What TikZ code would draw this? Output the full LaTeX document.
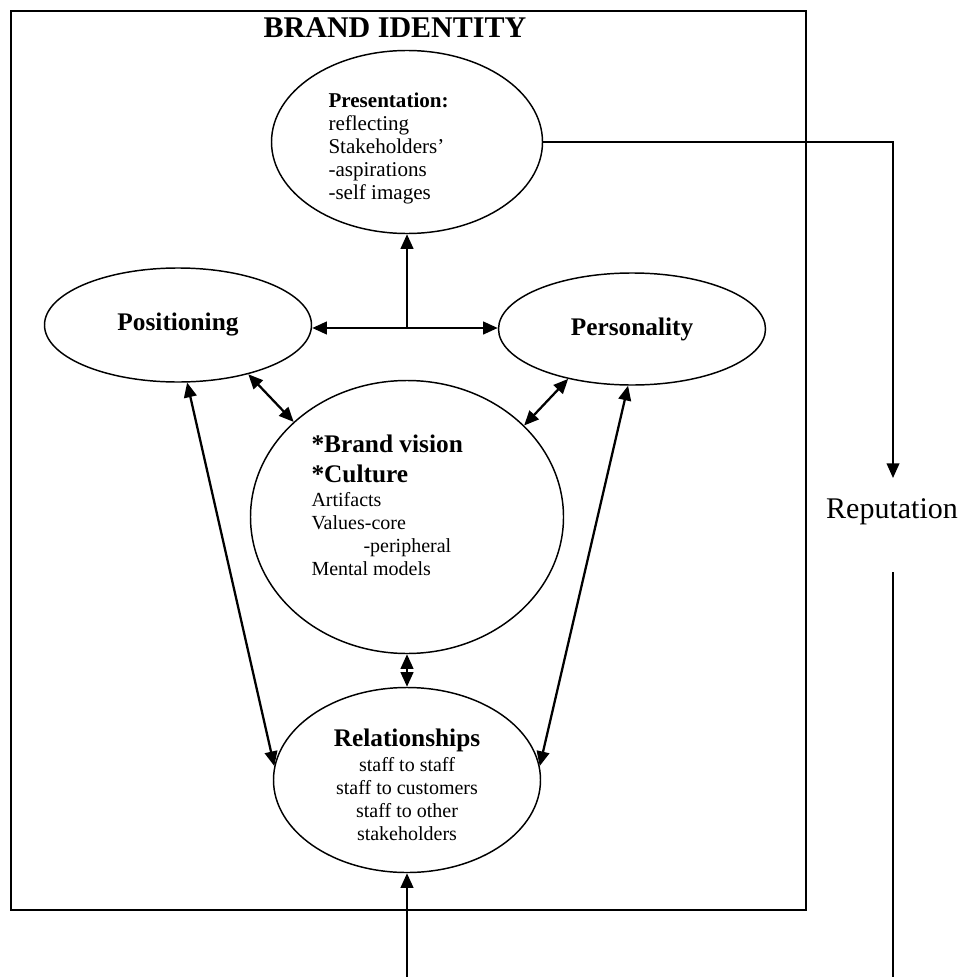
\documentclass[tikz,border=0pt]{standalone}
\usepackage{fontspec}
\setmainfont{Liberation Serif}
\usetikzlibrary{shapes.geometric,arrows.meta}

\tikzset{every picture/.style={line width=0.75pt}}
\tikzset{
	bubble/.style={draw, ellipse, line width=1.1pt, inner sep=0pt, font=\fontsize{19}{22.5}\selectfont\bfseries},
	lbl/.style={inner sep=0pt, font=\fontsize{15}{17.25}\selectfont},
	arw/.style={line width=1.7pt, -{Triangle[length=11pt,width=9.5pt]}},
	dblarw/.style={line width=1.7pt, {Triangle[length=11pt,width=9.5pt]}-{Triangle[length=11pt,width=9.5pt]}},
}

\begin{document}
\begin{tikzpicture}[x=0.75pt,y=0.75pt,yscale=-1,xscale=1]
		\useasboundingbox (0,0) rectangle (962,977);

		%Shape: Rectangle
		\draw [line width=1.3pt]  (11,11) rectangle (806,910) ;
		% Text Node
		\node [inner sep=0pt, font=\fontsize{22.5}{27}\selectfont\bfseries] (title) at (395,28) {BRAND IDENTITY};

		%Shape: Ellipse
		\node [bubble, minimum width=203.25pt, minimum height=137.25pt] (pres) at (407,142) {};
		\node [bubble, minimum width=200.25pt, minimum height=85.5pt] (posn) at (178,325) {Positioning};
		\node [bubble, minimum width=200.25pt, minimum height=84pt] (pers) at (632,329) {Personality};
		\node [bubble, minimum width=234.75pt, minimum height=204.75pt] (cult) at (407,517) {};
		\node [bubble, minimum width=200.25pt, minimum height=138.75pt] (rel) at (407,780) {};

		% Text Node
		\node [lbl, font=\fontsize{15.8}{17.25}\selectfont, anchor=north west, align=left] (presText) at (328,92) {\textbf{Presentation:}\\ reflecting\\ Stakeholders'\\ -aspirations\\ -self images};
		% Text Node
		\node [lbl, anchor=north west, align=left] (cultText) at (311,434) {{\fontsize{19}{22.5}\selectfont\bfseries *Brand vision}\\[5.25pt] {\fontsize{19}{22.5}\selectfont\bfseries *Culture}\\[1pt] Artifacts\\ Values-core\\ \hspace*{39pt}-peripheral\\ Mental models};
		% Text Node
		\node [lbl, anchor=north, align=center] (relText) at (407,728) {{\fontsize{19}{22.5}\selectfont\bfseries Relationships}\\[1.5pt] staff to staff\\ staff to customers\\ staff to other\\ stakeholders};
		% Text Node
		\node [inner sep=0pt, font=\fontsize{22.5}{27}\selectfont] (rep) at (892,512) {Reputation};

		\coordinate (hub) at (407,328);
		\coordinate (repIn) at (893,478);
		\coordinate (repOut) at (893,572);
		\coordinate (repEnd) at (893,977);
		\coordinate (relIn) at (407,977);

		%Straight Lines
		\draw [arw] (hub) -- (pres.south) ;
		\draw [dblarw] (posn.east |- hub) -- (pers.west |- hub) ;
		\draw [dblarw] (posn.-35) -- (cult.140) ;
		\draw [dblarw] (pers.-142) -- (cult.38) ;
		\draw [dblarw] (posn.-81) -- (rel.174) ;
		\draw [dblarw] (pers.-94) -- (rel.6) ;
		\draw [dblarw] (cult.south) -- (rel.north) ;
		\draw [arw] (relIn) -- (rel.south) ;
		%Straight Lines
		\draw [line width=1.3pt, -{Triangle[length=11pt,width=9.5pt]}] (pres.east) -| (repIn) ;
		\draw [line width=1pt] (repOut) -- (repEnd) ;

\end{tikzpicture}
\end{document}
